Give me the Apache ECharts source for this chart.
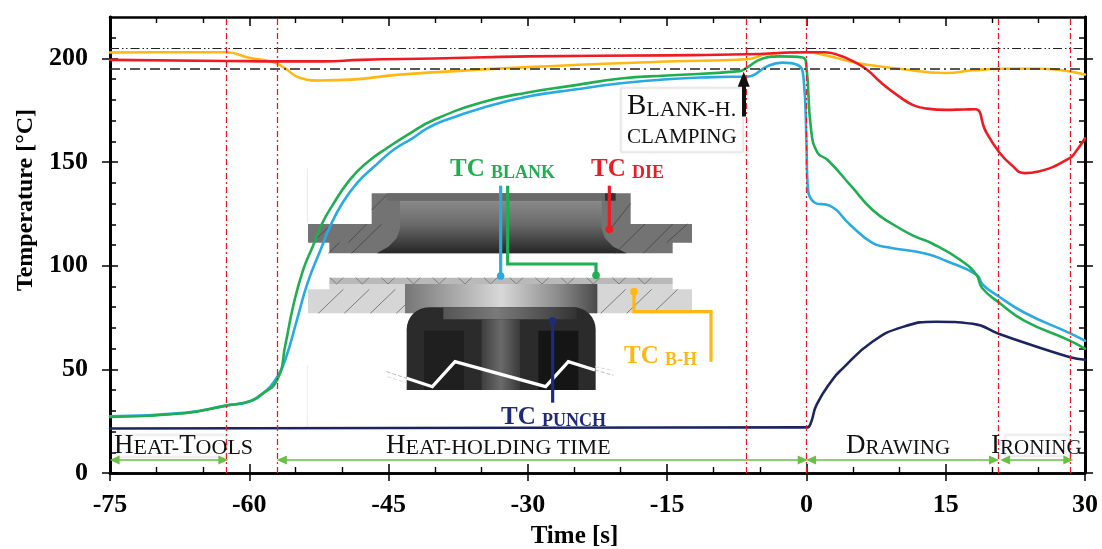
<!DOCTYPE html>
<html><head><meta charset="utf-8">
<style>html,body{margin:0;padding:0;background:#fff}#c{width:1102px;height:549px}</style>
<script src="https://cdn.jsdelivr.net/npm/echarts@6/dist/echarts.min.js"></script>
</head><body><div id="c"></div>
<script>
const redDie=[[-75,199.3],[-62.5,198.8],[-57,198.6],[-52,198.6],[-48,199.3],[-40,200],[-30,201],[-15,201.5],[-6.5,202],[0,203],[2,203],[3.5,201.5],[5,198.7],[6.5,194.7],[8,188.5],[10,181.6],[11.5,177.5],[13,175.8],[15,175.2],[17,175.4],[18.2,175.5],[19.3,165],[20.8,154.5],[22,149],[23.5,144.7],[25,145.5],[28.3,151.8],[29,155],[30,161.5]];
const orangeBH=[[-75,202.9],[-70,203],[-62.5,203],[-60,200.3],[-57.4,198.2],[-56.3,195.7],[-54.5,190.6],[-52.4,189.4],[-49,189.8],[-43.8,192.2],[-30,195.8],[-15,198.5],[-6.4,199.6],[-4.3,202],[0,203],[2.2,201.4],[4.7,198.5],[6.5,197],[10,195],[15,193],[18,194.3],[21,195],[25,195],[30,192.3]];
const blueBlank=[[-75,27.3],[-67,29],[-62.5,32.5],[-60,34.5],[-58.5,38.5],[-57,46.3],[-56.1,55],[-54.8,75],[-53.7,92],[-52.2,109],[-51.3,119],[-50,130],[-48.4,139.9],[-46.6,147.6],[-44.5,155.8],[-42.4,161.6],[-40.8,166.4],[-38.9,170.2],[-35,176],[-30,181.6],[-25,185],[-20,188],[-15,190],[-10,191],[-6.4,191.3],[-5.8,191.8],[-4.3,196],[-2.6,198],[-1,197],[-0.3,190],[0,160],[0.1,141.5],[0.9,130.4],[2.5,129],[4.7,119.8],[7.1,111],[8.6,109],[12.9,105.8],[15,102.4],[18.3,95.7],[19,90.8],[20.6,85.5],[23.5,77.3],[28.3,67.6],[30,63.8]];
const greenBlank=[[-75,27],[-67,28.8],[-62.5,32.5],[-60,34.5],[-58.8,37.6],[-57,44.9],[-56.1,62.2],[-55.3,80],[-54.2,98],[-53.1,110],[-52.2,120],[-51,129.5],[-49.2,141.3],[-47.4,149.5],[-45.2,156.7],[-42.7,163.9],[-40.2,170.2],[-35,178.7],[-30,183.6],[-25,187],[-20,190.3],[-15,191.8],[-7.2,193.9],[-6.4,195.6],[-4.7,200],[-2.9,201],[-0.4,200.5],[0,196],[0.5,165.7],[1.2,154.5],[2.3,151],[4.9,138],[7.1,127],[9.3,120],[11.5,114.5],[13.6,110.6],[16.5,103],[18.3,95.7],[18.9,89.4],[20.8,82],[23.5,73.4],[28.3,64],[30,60]];
const navyPunch=[[-75,21.5],[-30,21.8],[-0.5,22],[0.1,22],[0.5,24.5],[1.1,33],[2.8,45],[3.8,50],[7.1,63.3],[10.4,70.5],[14,73],[17.9,72],[20.8,67],[23.5,62.8],[28.3,56],[30,54.6]];

const phaseLines=[-62.5,-57,-6.5,0,20.7,28.4];
const limitHigh=205, limitLow=195.2;
const phaseArrows=[[-74.5,-62.8],[-56.5,-0.4],[0.5,20.2],[21.4,28.2]];
const phaseArrowLevel=6.3;
const clampArrow={t:-6.75,from:172,to:190};
const xTickVals=[-75,-60,-45,-30,-15,0,15,30];
const yTickVals=[0,50,100,150,200];
const yMinorVals=[10,20,30,40,60,70,80,90,110,120,130,140,160,170,180,190,210];

const SERIF='"Liberation Serif"';
const chart=echarts.init(document.getElementById('c'),null,{renderer:'canvas'});
const px=X=>280+X/3, py=Y=>140+Y/3;
const pts=a=>a.map(p=>[px(p[0]),py(p[1])]);
const Z=1;
const g=[];
const poly=(a,fill)=>g.push({type:'polygon',z:Z,shape:{points:pts(a)},style:{fill}});
const rect=(X,Y,W,H,fill,extra)=>g.push(Object.assign({type:'rect',z:Z,shape:{x:px(X),y:py(Y),width:W/3,height:H/3},style:{fill}},extra||{}));
const line=(a,stroke,lw,dash)=>g.push({type:'polyline',z:Z,shape:{points:pts(a)},style:{stroke,lineWidth:lw,fill:'none',lineDash:dash||null}});
const grad=(x,y,x2,y2,stops)=>({type:'linear',x,y,x2,y2,colorStops:stops.map(c=>({offset:c[0],color:c[1]}))});

line([[82,85],[82,250]],'#e8e8e8',1);
line([[82,675],[82,860]],'#ececec',1);
poly([[275,160],[1052,160],[1052,252],[1236,252],[1236,308],[1178,308],[1178,340],[148,340],[148,308],[84,308],[84,252],[275,252]],'#737373');
poly([[360,182],[360,265],[350,295],[325,320],[290,340],[1040,340],[1000,320],[975,295],[965,265],[965,182]],grad(0,0,0,1,[[0,'#8a8a8a'],[0.45,'#6a6a6a'],[1,'#262626']]));
rect(320,160,685,22,'#6a6a6a');
rect(975,160,32,22,'#333');
[[[100,305],[155,252]],[[205,308],[260,252]],[[215,340],[305,252]],[[275,210],[320,165]],[[145,340],[178,308]],[[985,275],[1052,190]],[[1005,340],[1095,252]],[[1090,340],[1178,252]],[[1160,308],[1222,252]]].forEach(s=>line(s,'#3d3d3d',0.7));
poly([[148,432],[1178,432],[1178,448],[1236,448],[1236,520],[84,520],[84,448],[148,448]],'#d6d6d6');
for(let X=115;X<370;X+=78) line([[X,520],[X+75,448]],'#555',0.7);
for(let X=962;X<1190;X+=78) line([[X,520],[X+75,448]],'#555',0.7);
rect(148,413,1030,19,'#b9b9b9');
for(let X=170;X<1170;X+=77){line([[X,432],[X+20,413]],'#666',0.7);line([[X,432],[X-20,413]],'#666',0.7);}
rect(375,432,577,88,grad(0,0,1,0,[[0,'#767676'],[0.5,'#d8d8d8'],[0.8,'#8a8a8a'],[1,'#4a4a4a']]));
g.push({type:'rect',z:Z,shape:{x:px(380),y:py(502),width:567/3,height:248/3,r:[22,22,0,0]},style:{fill:'#2b2b2b'}});
rect(490,502,400,36,grad(0,0,1,0,[[0,'#555'],[0.4,'#7a7a7a'],[1,'#333']]));
rect(432,572,120,178,'#1f1f1f');
rect(775,572,120,178,'#151515');
rect(605,538,115,212,grad(0,0,1,0,[[0,'#3f3f3f'],[0.5,'#6a6a6a'],[1,'#3a3a3a']]));
line([[380,715],[457,740],[525,665],[797,740],[865,665],[945,690]],'#fff',3.2);
line([[320,695],[380,715]],'#bbb',1,[4,2]);
line([[322,710],[380,728]],'#ddd',1,[4,2]);
line([[945,690],[1000,706]],'#bbb',1,[4,2]);
line([[945,680],[1000,692]],'#ddd',1,[4,2]);
const dot=(X,Y,fill)=>g.push({type:'circle',z:Z,shape:{cx:px(X),cy:py(Y),r:3.8},style:{fill}});
const BLUE='#29abe2',GREEN='#1fae50',RED='#ed1c24',ORANGE='#fdb813',NAVY='#1f2a78';
line([[662,137],[662,408]],BLUE,3.2);dot(662,408,BLUE);
line([[683,137],[683,372],[948,372],[948,406]],GREEN,3.2);dot(948,406,GREEN);
line([[988,137],[988,268]],RED,3.2);dot(988,268,RED);
line([[1062,455],[1062,515],[1293,515],[1293,665]],ORANGE,3.2);dot(1062,455,ORANGE);
line([[818,543],[818,788]],NAVY,3.2);dot(818,543,NAVY);

const tc=(x,y,small,fill)=>g.push({type:'text',z:5,x,y,style:{text:'{a|TC }{b|'+small+'}',fill,rich:{
  a:{fontFamily:SERIF,fontWeight:'bold',fontSize:25,fill,verticalAlign:'bottom',lineHeight:26},
  b:{fontFamily:SERIF,fontWeight:'bold',fontSize:18,fill,verticalAlign:'bottom',lineHeight:22}}}});
tc(450,156,'BLANK',GREEN);
tc(591,156,'DIE',RED);
tc(624,343,'B-H',ORANGE);
tc(501,404,'PUNCH',NAVY);

const box=(x,y,w,h,s)=>g.push({type:'rect',z:3,shape:{x,y,width:w,height:h},style:{fill:'#fff',stroke:s,lineWidth:1,shadowBlur:2,shadowColor:'#ddd'}});
box(621,88,122,64,'#e6e6e6');
box(118,435,108,22,'#f0f0f0');
box(1005,435,65,21,'#eeeeee');
const cap=(x,y,parts,size,small)=>{
  g.push({type:'text',z:6,x,y,style:{text:parts.map(p=>'{'+p[0]+'|'+p[1]+'}').join(''),rich:{
    A:{fontFamily:SERIF,fontSize:size,fill:'#111',verticalAlign:'bottom',lineHeight:size+1},
    s:{fontFamily:SERIF,fontSize:small,fill:'#111',verticalAlign:'bottom',lineHeight:size-1}}}});
};
cap(114,431,[['A','H'],['s','EAT-'],['A','T'],['s','OOLS']],27,22);
cap(386,431,[['A','H'],['s','EAT-HOLDING TIME']],27,22);
cap(846,431,[['A','D'],['s','RAWING']],27,21);
cap(991,431,[['A','I'],['s','RONING']],27,21);
cap(627,91,[['A','B'],['s','LANK-H.']],29,22);
cap(627,125,[['s','CLAMPING']],24,21);

const axisLine={onZero:false,lineStyle:{color:'#000',width:2.6}};
const tk=(inside,length,customValues)=>({show:true,inside,length,customValues,lineStyle:{color:'#000',width:1.5}});
const lblOff={show:false};
const xBase={type:'value',min:-75,max:30,interval:15,splitLine:{show:false},axisLine};
const yBase={type:'value',min:0,max:220,splitLine:{show:false},axisLine};
const labelStyle={fontFamily:SERIF,fontWeight:'bold',fontSize:26,color:'#000'};
const nameStyle={fontFamily:SERIF,fontWeight:'bold',fontSize:24,color:'#000'};
const xAxes=[
 {...xBase,position:'bottom',axisTick:tk(true,9),minorTick:{show:true,splitNumber:3,length:6,lineStyle:{color:'#000',width:1.4}},
  axisLabel:{...labelStyle,margin:19,formatter:v=>String(v),customValues:xTickVals},name:'Time [s]',nameLocation:'middle',nameGap:51,nameTextStyle:{...nameStyle,fontSize:25,padding:[0,46,0,0]}},
 {...xBase,position:'bottom',axisTick:tk(false,8),axisLabel:lblOff},
 {...xBase,position:'top',axisTick:tk(true,9),minorTick:{show:true,splitNumber:3,length:6,lineStyle:{color:'#000',width:1.4}},axisLabel:lblOff}
];
const yAxes=[
 {...yBase,position:'left',axisTick:tk(false,8,yTickVals),axisLabel:{...labelStyle,margin:22,padding:[4,0,0,0],customValues:yTickVals},
  name:'Temperature [°C]',nameLocation:'middle',nameGap:71,nameRotate:90,nameTextStyle:{...nameStyle,padding:[0,0,0,90]}},
 {...yBase,position:'left',axisTick:tk(true,8,yTickVals),axisLabel:lblOff},
 {...yBase,position:'left',axisTick:tk(true,6,yMinorVals),axisLabel:lblOff},
 {...yBase,position:'right',axisTick:tk(false,8,yTickVals),axisLabel:lblOff},
 {...yBase,position:'right',axisTick:tk(true,8,yTickVals),axisLabel:lblOff},
 {...yBase,position:'right',axisTick:tk(true,6,yMinorVals),axisLabel:lblOff}
];
const curve=(name,data,color)=>({name,type:'line',data,showSymbol:false,smooth:0.5,z:4,clip:true,silent:true,
  lineStyle:{color,width:2.6,cap:'round',join:'round'},itemStyle:{color}});
const marks=(name,lines,style,sym,size,z)=>({name,type:'line',data:[],z:z||2,silent:true,markLine:{silent:true,animation:false,symbol:sym||'none',symbolSize:size||0,label:{show:false},emphasis:{disabled:true},lineStyle:style,data:lines,precision:3}});

chart.setOption({
 animation:false,backgroundColor:'#fff',
 grid:{left:110,right:17,top:17,bottom:76,containLabel:false,outerBoundsMode:'none'},
 xAxis:xAxes,yAxis:yAxes,
 graphic:{elements:g},
 series:[
  marks('limits-high',[{yAxis:limitHigh}],{color:'#222',width:1.2,type:[9,3,1.5,2.5,1.5,3]}),
  marks('limits-low',[{yAxis:limitLow}],{color:'#222',width:1.6,type:[10,4,2,4]}),
  curve('TC punch',navyPunch,'#1b2560'),
  curve('TC B-H',orangeBH,ORANGE),
  curve('TC die',redDie,RED),
  curve('TC blank (blue)',blueBlank,BLUE),
  curve('TC blank (green)',greenBlank,GREEN),
  marks('phases',phaseLines.map(v=>({xAxis:v})),{color:RED,width:1.3,type:[6,3,2,3]},null,0,7),
  marks('phase-arrows',phaseArrows.map(a=>[{coord:[a[0],phaseArrowLevel]},{coord:[a[1],phaseArrowLevel]}]),{color:'#6abf45',width:1.6,type:'solid'},['triangle','triangle'],[9,10],7),
  marks('clamp-arrow',[[{coord:[clampArrow.t,clampArrow.from]},{coord:[clampArrow.t,clampArrow.to]}]],{color:'#111',width:4,type:'solid'},['none','triangle'],[12,15],8)
 ]
});
</script></body></html>
